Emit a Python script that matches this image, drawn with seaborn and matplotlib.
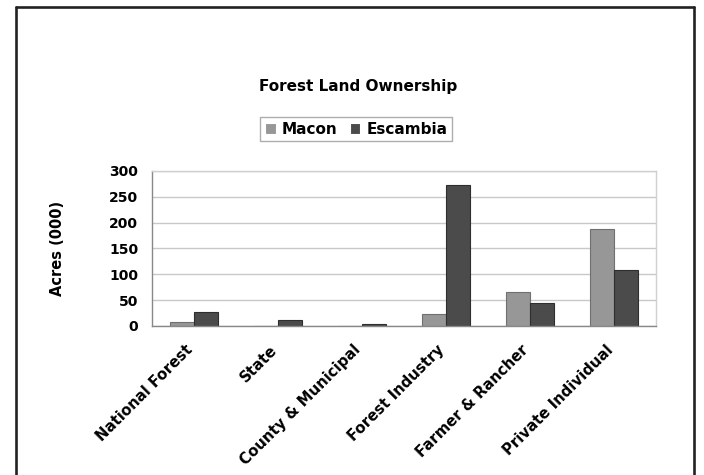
import pandas as pd
import matplotlib
matplotlib.use("Agg")
import matplotlib.pyplot as plt
import matplotlib.transforms as mtransforms
from matplotlib.lines import Line2D
import seaborn as sns

# ---------------------- 数据 ----------------------
categories = ["National Forest", "State", "County & Municipal",
              "Forest Industry", "Farmer & Rancher", "Private Individual"]
series_names = ["Macon", "Escambia"]
macon = [8, 0, 0, 23, 65, 188]
escambia = [26, 11, 4, 273, 45, 108]
y_ticks = [0, 50, 100, 150, 200, 250, 300]

df = pd.DataFrame({
    "category": categories * 2,
    "series": [series_names[0]] * len(categories) + [series_names[1]] * len(categories),
    "acres": macon + escambia,
})

# ---------------------- 样式 ----------------------
sns.set_style("white")
plt.rcParams["font.family"] = ["DejaVu Sans"]
plt.rcParams["font.weight"] = "bold"
plt.rcParams["text.color"] = "black"
plt.rcParams["xtick.color"] = "black"
plt.rcParams["ytick.color"] = "black"
plt.rcParams["axes.labelcolor"] = "black"

colors = {"Macon": "#979797", "Escambia": "#4b4b4b"}
edges = {"Macon": "#707070", "Escambia": "#2e2e2e"}

fig = plt.figure(figsize=(7.04, 4.75), dpi=100)
ax = fig.add_axes([0.216, 0.314, 0.716, 0.326])

sns.barplot(data=df, x="category", y="acres", hue="series", order=categories,
            hue_order=series_names, palette=colors, width=0.57,
            linewidth=0.8, saturation=1, ax=ax)
for cont, name in zip(ax.containers, series_names):
    for p in cont:
        p.set_edgecolor(edges[name])

handles, labels = ax.get_legend_handles_labels()
ax.get_legend().remove()

# 坐标轴
ax.set_xlim(-0.5, len(categories) - 0.5)
ax.set_ylim(0, 300)
ax.set_yticks(y_ticks)
ax.yaxis.grid(True, color="#c8c8c8", linewidth=1)
ax.set_axisbelow(True)
ax.tick_params(axis="y", length=0, pad=10, labelsize=10)
ax.set_xticks(range(len(categories)))
ax.set_xticks([i - 0.5 for i in range(len(categories) + 1)], minor=True)
ax.tick_params(axis="x", which="major", length=0, pad=8, labelsize=10.7)
ax.tick_params(axis="x", which="minor", length=5, width=1, color="#888888")
ax.set_xticklabels(categories, rotation=45, ha="right", rotation_mode="anchor",
                   fontweight="bold")
shift = mtransforms.ScaledTranslation(-9 / 100, -5 / 100, fig.dpi_scale_trans)
for lab in ax.get_xticklabels():
    lab.set_transform(lab.get_transform() + shift)
for lab in ax.get_yticklabels():
    lab.set_fontweight("bold")
ax.set_xlabel("")
ax.set_ylabel("Acres (000)", fontsize=10.5, fontweight="bold")
ax.yaxis.set_label_coords(-0.172, 0.5)

for side in ["left", "bottom"]:
    ax.spines[side].set_color("#888888")
    ax.spines[side].set_linewidth(1)
for side in ["top", "right"]:
    ax.spines[side].set_color("#d0d0d0")
    ax.spines[side].set_linewidth(1)

# 标题和图例
fig.text(0.508, 0.808, "Forest Land Ownership", ha="center", va="baseline",
         fontsize=11, fontweight="bold")
leg = fig.legend(handles, labels, loc="center", bbox_to_anchor=(0.506, 0.728),
                 ncol=2, frameon=True, fancybox=False, edgecolor="#999999",
                 prop={"weight": "bold", "size": 11}, handlelength=0.7,
                 handleheight=0.7, handletextpad=0.4, columnspacing=0.8,
                 borderpad=0.3)
leg.get_frame().set_linewidth(1)

# 外框
frame_kw = dict(color="#222222", linewidth=1.9, transform=fig.transFigure)
fig.add_artist(Line2D([0.0227, 0.0227], [0.0, 0.985], **frame_kw))
fig.add_artist(Line2D([0.986, 0.986], [0.0, 0.985], **frame_kw))
fig.add_artist(Line2D([0.0227, 0.986], [0.985, 0.985], **frame_kw))

fig.savefig("out.png", dpi=100)
